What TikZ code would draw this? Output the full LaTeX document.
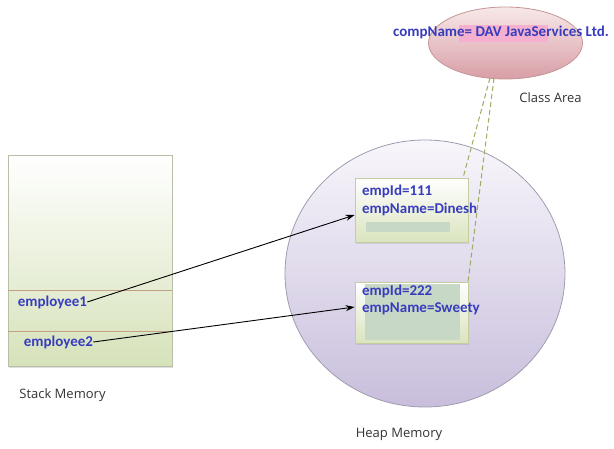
\documentclass[tikz,border=0pt]{standalone}
\usepackage{fontspec}
\setmainfont{Open Sans}
\newfontfamily\blueface{Carlito}
\usetikzlibrary{shapes.geometric,arrows.meta,shadows}
\definecolor{txtblue}{RGB}{55,60,190}
\definecolor{stackbot}{RGB}{214,226,186}
\definecolor{stackedge}{RGB}{184,190,168}
\definecolor{divline}{RGB}{196,160,130}
\definecolor{heaptop}{RGB}{248,246,251}
\definecolor{heapbot}{RGB}{200,190,220}
\definecolor{heapedge}{RGB}{160,156,176}
\definecolor{pinktop}{RGB}{248,232,232}
\definecolor{pinkbot}{RGB}{216,158,166}
\definecolor{pinkedge}{RGB}{196,150,150}
\definecolor{hilite}{RGB}{244,176,206}
\definecolor{boxbot}{RGB}{218,228,190}
\definecolor{boxedge}{RGB}{196,204,160}
\definecolor{innerfill}{RGB}{200,216,198}
\definecolor{dashcol}{RGB}{160,172,100}
\tikzset{
  bluetxt/.style={font=\blueface\bfseries\fontsize{15}{17}\selectfont, text=txtblue, inner sep=0pt},
  labeltxt/.style={font=\fontsize{13}{15}\selectfont, text=black!80, inner sep=0pt},
  stackbox/.style={draw=stackedge, line width=0.8pt, top color=white, bottom color=stackbot, rectangle, inner sep=0pt,
     drop shadow={opacity=0.25, shadow xshift=1pt, shadow yshift=-1.5pt}},
  heapell/.style={ellipse, draw=heapedge, line width=0.8pt, top color=heaptop, bottom color=heapbot, inner sep=0pt},
  classell/.style={ellipse, draw=pinkedge, line width=0.8pt, top color=pinktop, bottom color=pinkbot, inner sep=0pt},
  objbox/.style={rectangle, draw=boxedge, line width=0.8pt, top color=white, bottom color=boxbot, inner sep=0pt,
     drop shadow={opacity=0.2, shadow xshift=1pt, shadow yshift=-1.5pt}},
  innerbox/.style={rectangle, fill=innerfill, draw=none, inner sep=0pt},
  refarrow/.style={draw=black, line width=0.9pt, -{Stealth[length=9pt,width=6pt]}},
  classlink/.style={draw=dashcol, line width=1pt, dash pattern=on 5pt off 3pt},
}
\begin{document}
\begin{tikzpicture}[x=1pt,y=-1pt]
\useasboundingbox (0,0) rectangle (614,448);
% stack memory
\node[stackbox, minimum width=164pt, minimum height=211pt] (stack) at (90,260.5) {};
\draw[divline, line width=0.7pt] (8.4,290) -- (171.6,290);
\draw[divline, line width=0.7pt] (8.4,331) -- (171.6,331);
\node[bluetxt] (emp1) at (52.5,302) {employee1};
\node[bluetxt] (emp2) at (58.5,342) {employee2};
\node[labeltxt] (stacklbl) at (62.5,395) {Stack Memory};
% heap memory
\node[heapell, minimum width=280pt, minimum height=267pt] (heap) at (425,273.5) {};
\node[labeltxt] (heaplbl) at (399,434) {Heap Memory};
% object boxes
\node[objbox, minimum width=113pt, minimum height=64pt] (box1) at (411.5,210) {};
\node[innerbox, minimum width=84pt, minimum height=10pt] (in1) at (408,227) {};
\node[bluetxt, anchor=west] (id1) at (362,191) {empId=111};
\node[bluetxt, anchor=west] (nm1) at (362,209) {empName=Dinesh};
\node[objbox, minimum width=113pt, minimum height=61pt] (box2) at (411.5,312.5) {};
\node[innerbox, minimum width=95pt, minimum height=56pt] (in2) at (412.5,312) {};
\node[bluetxt, anchor=west] (id2) at (362,291) {empId=222};
\node[bluetxt, anchor=west] (nm2) at (362,309) {empName=Sweety};
% class area
\node[classell, minimum width=154pt, minimum height=72pt] (cls) at (505.5,43) {};
\node[fill=hilite, inner sep=0pt, minimum width=89pt, minimum height=17pt] (hl) at (503.5,33) {};
\node[bluetxt] (comp) at (501,32) {compName= DAV JavaServices Ltd.};
\node[labeltxt] (clslbl) at (550.5,98) {Class Area};
% class links
\coordinate (ca) at (490,78);
\coordinate (cb) at (494,78);
\coordinate (ta) at (463,178);
\coordinate (tb) at (468,282);
\draw[classlink] (ca) -- (ta);
\draw[classlink] (cb) -- (tb);
% references
\draw[refarrow] (emp1.east) -- ([yshift=-5pt]box1.west);
\draw[refarrow] (emp2.east) -- ([yshift=5.5pt]box2.west);
\end{tikzpicture}
\end{document}
